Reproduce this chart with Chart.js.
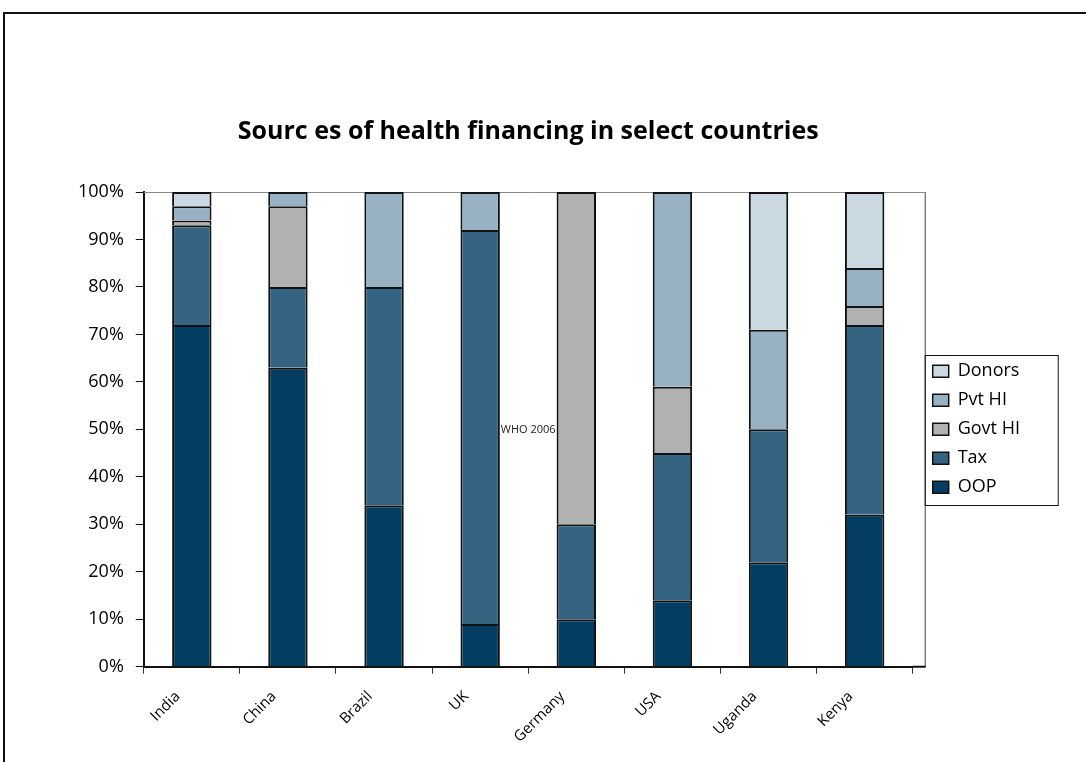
<!DOCTYPE html>
<html>
<head>
<meta charset="utf-8">
<script src="https://cdn.jsdelivr.net/npm/chart.js@4"></script>
<style>
  html, body { margin: 0; padding: 0; background: #fff; }
  #wrap { position: relative; width: 1086px; height: 762px; overflow: hidden; }
  #marco { position: absolute; left: 3px; top: 12px; width: 1200px; height: 800px;
           border-top: 2px solid #111; border-left: 2px solid #111; }
  canvas { position: absolute; left: 0; top: 0; }
</style>
</head>
<body>
<div id="wrap">
  <div id="marco"></div>
  <canvas id="grafico" width="1086" height="762"></canvas>
</div>
<script>
// datos (porcentaje del gasto en salud)
const paises = ["India", "China", "Brazil", "UK", "Germany", "USA", "Uganda", "Kenya"];
const oop    = [72, 63, 34,  9, 10, 14, 22, 32];
const tax    = [21, 17, 46, 83, 20, 31, 28, 40];
const govtHI = [ 1, 17,  0,  0, 70, 14,  0,  4];
const pvtHI  = [ 3,  3, 20,  8,  0, 41, 21,  8];
const donors = [ 3,  0,  0,  0,  0,  0, 29, 16];
const titulo = "Sourc es of health financing in select countries";
const nota = "WHO 2006";

const fuente = "'Open Sans', 'DejaVu Sans', sans-serif";

function serie(label, data, color) {
  return {
    label, data,
    backgroundColor: color,
    borderColor: "#111",
    // un solo borde entre tramos; nada en los tramos de valor 0
    borderWidth: c => (c.raw === 0 ? 0 : { top: 2, right: 2, bottom: 0, left: 2 }),
    borderSkipped: false,
    barPercentage: 0.41,
    categoryPercentage: 1
  };
}

// marco del área de trazado, recuadro de la leyenda y la nota "WHO 2006"
const extras = {
  id: "extras",
  afterLayout(chart) {
    // la leyenda va un poco más a la derecha del borde del área
    chart.legend.left += 9;
    chart.legend.right += 9;
  },
  beforeDatasetsDraw(chart) {
    const { ctx, chartArea: a } = chart;
    ctx.save();
    ctx.lineWidth = 1;
    ctx.strokeStyle = "#8a8a8a";
    ctx.beginPath();
    ctx.moveTo(a.left, a.top + 0.5);
    ctx.lineTo(a.right + 12, a.top + 0.5);
    ctx.stroke();
    ctx.strokeStyle = "#444";
    ctx.beginPath();
    ctx.moveTo(a.right + 12.5, a.top);
    ctx.lineTo(a.right + 12.5, a.bottom);
    ctx.stroke();
    ctx.strokeStyle = "#111";
    ctx.lineWidth = 2;
    ctx.beginPath();
    ctx.moveTo(a.right, a.bottom);
    ctx.lineTo(a.right + 13, a.bottom);
    ctx.stroke();
    ctx.restore();
  },
  afterDraw(chart) {
    const { ctx, chartArea: a, scales: { x, y } } = chart;
    ctx.save();
    // nota entre UK y Germany
    ctx.font = "11px " + fuente;
    ctx.fillStyle = "#222";
    ctx.textAlign = "center";
    ctx.textBaseline = "middle";
    ctx.fillText(nota, (x.getPixelForValue(3) + x.getPixelForValue(4)) / 2, y.getPixelForValue(50));
    // recuadro de la leyenda
    const lg = chart.legend;
    const cajas = lg.legendHitBoxes;
    if (cajas && cajas.length) {
      const top = cajas[0].top - 7;
      const bottom = cajas[cajas.length - 1].top + cajas[cajas.length - 1].height + 9;
      ctx.strokeStyle = "#111";
      ctx.lineWidth = 1;
      ctx.strokeRect(a.right + 12.5, Math.round(top) + 0.5, 133, Math.round(bottom - top));
    }
    ctx.restore();
  }
};

const ctx = document.getElementById("grafico");

new Chart(ctx, {
  type: "bar",
  data: {
    labels: paises,
    datasets: [
      serie("OOP", oop, "#033e62"),
      serie("Tax", tax, "#346482"),
      serie("Govt HI", govtHI, "#b1b1b1"),
      serie("Pvt HI", pvtHI, "#98b2c3"),
      serie("Donors", donors, "#cbd9e2")
    ]
  },
  options: {
    responsive: false,
    animation: false,
    layout: { padding: { top: 100, right: 65, bottom: 2, left: 66 } },
    plugins: {
      title: {
        display: true,
        text: titulo,
        fullSize: false,
        color: "#000",
        font: { family: fuente, size: 25, weight: "bold" },
        padding: { top: 17, bottom: 45 }
      },
      legend: {
        position: "right",
        fullSize: false,
        reverse: true,
        labels: {
          color: "#000",
          font: { family: fuente, size: 18 },
          boxWidth: 16,
          boxHeight: 12,
          padding: 11
        }
      },
      tooltip: { enabled: false }
    },
    scales: {
      x: {
        stacked: true,
        grid: { display: true, drawOnChartArea: false, drawTicks: true, tickLength: 7, color: "#333", offset: true },
        border: { display: true, color: "#111", width: 2 },
        ticks: {
          color: "#000",
          font: { family: fuente, size: 15 },
          minRotation: 45,
          maxRotation: 45,
          padding: 14,
          labelOffset: -14
        }
      },
      y: {
        stacked: true,
        min: 0,
        max: 100,
        grid: { display: true, drawOnChartArea: false, drawTicks: true, tickLength: 8, color: "#111" },
        border: { display: true, color: "#111", width: 2 },
        ticks: {
          stepSize: 10,
          color: "#000",
          font: { family: fuente, size: 18 },
          padding: 12,
          callback: v => v + "%"
        }
      }
    }
  },
  plugins: [extras]
});
</script>
</body>
</html>
